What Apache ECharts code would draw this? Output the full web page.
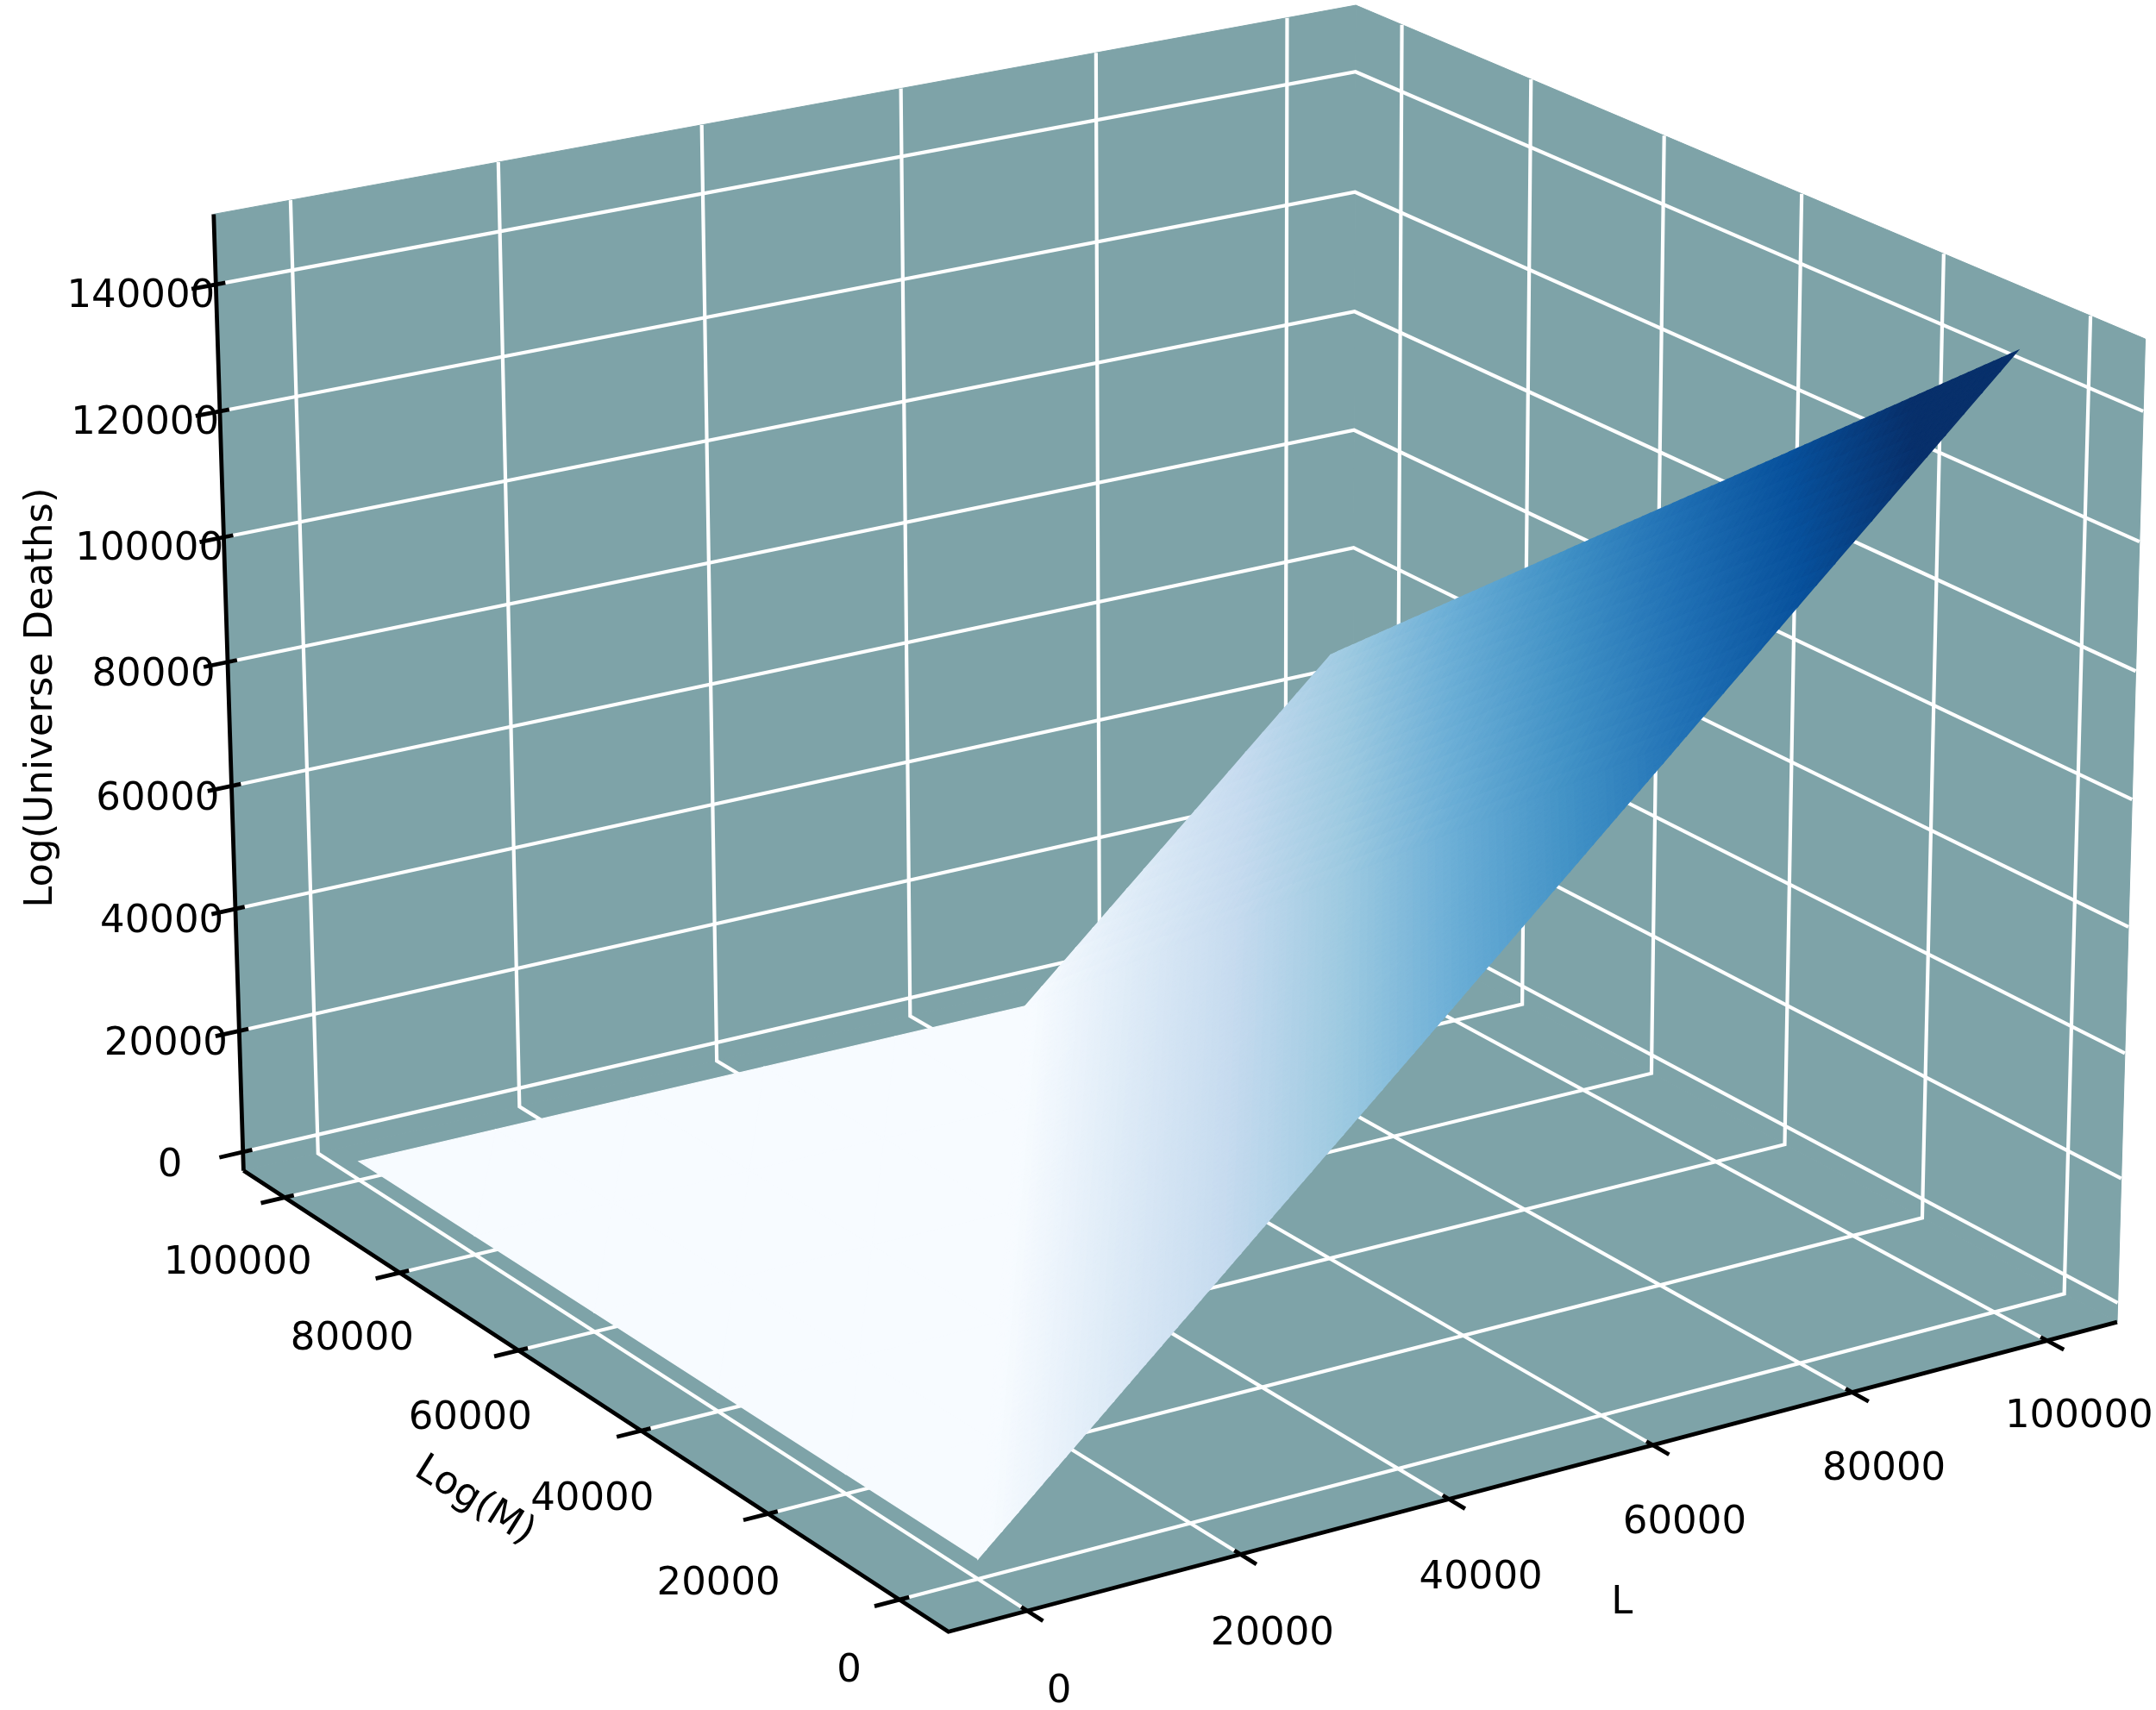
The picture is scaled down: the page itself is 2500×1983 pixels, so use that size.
<!DOCTYPE html>
<html><head><meta charset="utf-8">
<style>html,body{margin:0;padding:0;background:#fff}#c{width:2500px;height:1983px}</style>
<script src="https://cdn.jsdelivr.net/npm/echarts@6/dist/echarts.min.js"></script>
</head><body><div id="c"></div>
<script>
// ---- chart values ----
const lValues = [0, 13500, 27000, 40500, 54000, 67500, 100000];
const mValues = [0, 20000, 40000, 60000, 80000, 100000];
const deaths = [
  [0, 20000, 40000, 59900, 79900, 99900, 148000],
  [0, 0, 20000, 40000, 59900, 79900, 128000],
  [0, 0, 0, 20000, 40000, 59900, 108000],
  [0, 0, 0, 0, 20000, 40000, 88100],
  [0, 0, 0, 0, 0, 20000, 68100],
  [0, 0, 0, 0, 0, 0, 48100]
];
const lTicks = [0, 20000, 40000, 60000, 80000, 100000];
const mTicks = [0, 20000, 40000, 60000, 80000, 100000];
const zTicks = [0, 20000, 40000, 60000, 80000, 100000, 120000, 140000];
const lName = 'L', mName = 'Log(M)', zName = 'Log(Universe Deaths)';
// ---- axis box limits ----
const LO = -7292, HI = 107292, ZLO = -3100, ZHI = 151000;
// ---- camera calibration: box position -> page position ----
const camera = [
  [LO, LO, ZLO, 1100, 1893], [HI, LO, ZLO, 2456, 1533], [LO, HI, ZLO, 282, 1358], [HI, HI, ZLO, 1570, 1060],
  [LO, HI, ZHI, 249, 249], [HI, HI, ZHI, 1570, 6], [HI, LO, ZHI, 2489, 391],
  [0, 0, 0, 1134, 1808], [0, 100000, 0, 416, 1347], [0, 0, ZLO, 1135, 1831],
  [0, HI, ZLO, 368, 1338], [HI, 0, ZLO, 2393, 1500], [0, LO, ZLO, 1188, 1868], [LO, 0, ZLO, 1045, 1855],
  [100000, LO, ZLO, 2372, 1554], [LO, 100000, ZLO, 330, 1388], [100000, 0, 148000, 2340, 409],
  [LO, HI, 0, 282, 1335], [LO, HI, 140000, 250, 329]
];
function solveCamera(pts) {
  const A = Array.from({length: 11}, () => new Array(12).fill(0));
  const add = r => { for (let i = 0; i < 11; i++) { for (let j = 0; j < 11; j++) A[i][j] += r[i] * r[j]; A[i][11] += r[i] * r[11]; } };
  pts.forEach(p => {
    const X = p[0] / 1e5, Y = p[1] / 1e5, Z = p[2] / 1e5, u = p[3] / 1000, v = p[4] / 1000;
    add([X, Y, Z, 1, 0, 0, 0, 0, -u * X, -u * Y, -u * Z, u]);
    add([0, 0, 0, 0, X, Y, Z, 1, -v * X, -v * Y, -v * Z, v]);
  });
  for (let i = 0; i < 11; i++) {
    let b = i; for (let r = i + 1; r < 11; r++) if (Math.abs(A[r][i]) > Math.abs(A[b][i])) b = r;
    [A[i], A[b]] = [A[b], A[i]];
    for (let r = 0; r < 11; r++) if (r !== i) { const f = A[r][i] / A[i][i]; for (let c = i; c < 12; c++) A[r][c] -= f * A[i][c]; }
  }
  return A.map((row, i) => row[11] / row[i]);
}
const P = solveCamera(camera);
function proj(L, M, Z) {
  const X = L / 1e5, Y = M / 1e5, W = Z / 1e5, d = P[8] * X + P[9] * Y + P[10] * W + 1;
  return [1000 * (P[0] * X + P[1] * Y + P[2] * W + P[3]) / d, 1000 * (P[4] * X + P[5] * Y + P[6] * W + P[7]) / d];
}
// ---- colour map (Blues) ----
const blues = ['#f7fbff', '#deebf7', '#c6dbef', '#9ecae1', '#6baed6', '#4292c6', '#2171b5', '#08519c', '#08306b'];
const rgb = h => [1, 3, 5].map(i => parseInt(h.substr(i, 2), 16));
const zMax = Math.max(...deaths.flat());
const COL_LOW = 1500, COL_HIGH = 0.9 * zMax;
function colour(z) {
  const t = Math.max(0, Math.min(1, (z - COL_LOW) / (COL_HIGH - COL_LOW))) * (blues.length - 1), i = Math.min(blues.length - 2, Math.floor(t)), f = t - i;
  const a = rgb(blues[i]), b = rgb(blues[i + 1]);
  return 'rgb(' + a.map((v, k) => Math.round(v + (b[k] - v) * f)).join(',') + ')';
}
// ---- geometry built from the values ----
const PANE = '#7ea3a8', GRID = '#ffffff', INK = '#000000';
const panes = [
  [[LO, HI, ZLO], [HI, HI, ZLO], [HI, HI, ZHI], [LO, HI, ZHI]],
  [[HI, HI, ZLO], [HI, LO, ZLO], [HI, LO, ZHI], [HI, HI, ZHI]],
  [[LO, LO, ZLO], [HI, LO, ZLO], [HI, HI, ZLO], [LO, HI, ZLO]]
];
const gridLines = [];
lTicks.forEach(v => gridLines.push([[v, LO, ZLO], [v, HI, ZLO], [v, HI, ZHI]]));
mTicks.forEach(v => gridLines.push([[LO, v, ZLO], [HI, v, ZLO], [HI, v, ZHI]]));
zTicks.forEach(v => gridLines.push([[LO, HI, v], [HI, HI, v], [HI, LO, v]]));
const TICK_OUT = 2300, TICK_IN = 900;
const inkLines = [
  [[LO, HI, ZLO], [LO, LO, ZLO], [HI, LO, ZLO]],
  [[LO, HI, ZLO], [LO, HI, ZHI]]
];
lTicks.forEach(v => inkLines.push([[v, LO - TICK_OUT, ZLO], [v, LO + TICK_IN, ZLO]]));
mTicks.forEach(v => inkLines.push([[LO - TICK_OUT, v, ZLO], [LO + TICK_IN, v, ZLO]]));
zTicks.forEach(v => inkLines.push([[LO - TICK_OUT, HI, v], [LO + TICK_IN, HI, v]]));
const labels = [];
lTicks.forEach(v => labels.push({t: String(v), p: [v, LO - 4600, ZLO - 9400], r: 0}));
mTicks.forEach(v => labels.push({t: String(v), p: [LO - 4700, v, ZLO - 9000], r: 0}));
zTicks.forEach(v => labels.push({t: String(v), p: [LO - 6450, HI + 1200, v - 500], r: 0}));
labels.push({t: lName, p: [47000, LO - 14300, ZLO - 9850], r: 0});
labels.push({t: mName, p: [LO - 11900, 46700, ZLO - 10500], r: -32 * Math.PI / 180});
labels.push({t: zName, p: [LO - 11800, HI + 11500, 72200], r: Math.PI / 2});

const facets = [];
function triangle(a, b, c) {
  const same = a[2] === b[2] && b[2] === c[2];
  const n = same ? 1 : 18;
  const at = (i, j) => { const k = n - i - j; return [0, 1, 2].map(d => (a[d] * i + b[d] * j + c[d] * k) / n); };
  for (let i = 0; i < n; i++) for (let j = 0; j < n - i; j++) {
    facets.push([at(i, j), at(i + 1, j), at(i, j + 1)]);
    if (i + j < n - 1) facets.push([at(i + 1, j), at(i + 1, j + 1), at(i, j + 1)]);
  }
}
for (let j = 0; j < mValues.length - 1; j++) for (let i = 0; i < lValues.length - 1; i++) {
  const v = (a, b) => [lValues[a], mValues[b], deaths[b][a]];
  triangle(v(i, j), v(i + 1, j), v(i + 1, j + 1));
  triangle(v(i, j), v(i + 1, j + 1), v(i, j + 1));
}
const toPage = (api, p) => api.coord(proj(p[0], p[1], p[2]));
const idx = arr => arr.map((_, i) => [i, 0]);
const base = {type: 'custom', coordinateSystem: 'cartesian2d', animation: false, silent: true, clip: false};
const option = {
  animation: false,
  backgroundColor: '#ffffff',
  grid: {left: 0, right: 0, top: 0, bottom: 0},
  xAxis: {type: 'value', min: 0, max: 2500, show: false},
  yAxis: {type: 'value', min: 0, max: 1983, inverse: true, show: false},
  series: [
    Object.assign({}, base, {z: 1, data: idx(panes), renderItem: (p, api) => ({type: 'polygon',
      shape: {points: panes[api.value(0)].map(q => toPage(api, q))}, style: {fill: PANE, stroke: PANE, lineWidth: 1}})}),
    Object.assign({}, base, {z: 2, data: idx(gridLines), renderItem: (p, api) => ({type: 'polyline',
      shape: {points: gridLines[api.value(0)].map(q => toPage(api, q))}, style: {fill: null, stroke: GRID, lineWidth: 4.2, lineJoin: 'miter'}})}),
    Object.assign({}, base, {z: 3, data: idx(facets), progressive: 0, renderItem: (p, api) => {
      const f = facets[api.value(0)], col = colour((f[0][2] + f[1][2] + f[2][2]) / 3);
      return {type: 'polygon', shape: {points: f.map(q => toPage(api, q))}, style: {fill: col, stroke: col, lineWidth: 1.2}};
    }}),
    Object.assign({}, base, {z: 4, data: idx(inkLines), renderItem: (p, api) => ({type: 'polyline',
      shape: {points: inkLines[api.value(0)].map(q => toPage(api, q))}, style: {fill: null, stroke: INK, lineWidth: 4.8}})}),
    Object.assign({}, base, {z: 5, data: idx(labels), renderItem: (p, api) => {
      const l = labels[api.value(0)], c = toPage(api, l.p);
      return {type: 'text', x: c[0], y: c[1], rotation: l.r, style: {text: l.t, fill: INK, font: '45px "DejaVu Sans"', align: 'center', verticalAlign: 'middle'}};
    }})
  ]
};
const chart = echarts.init(document.getElementById('c'), null, {renderer: 'canvas', width: 2500, height: 1983});
chart.setOption(option);
</script></body></html>
